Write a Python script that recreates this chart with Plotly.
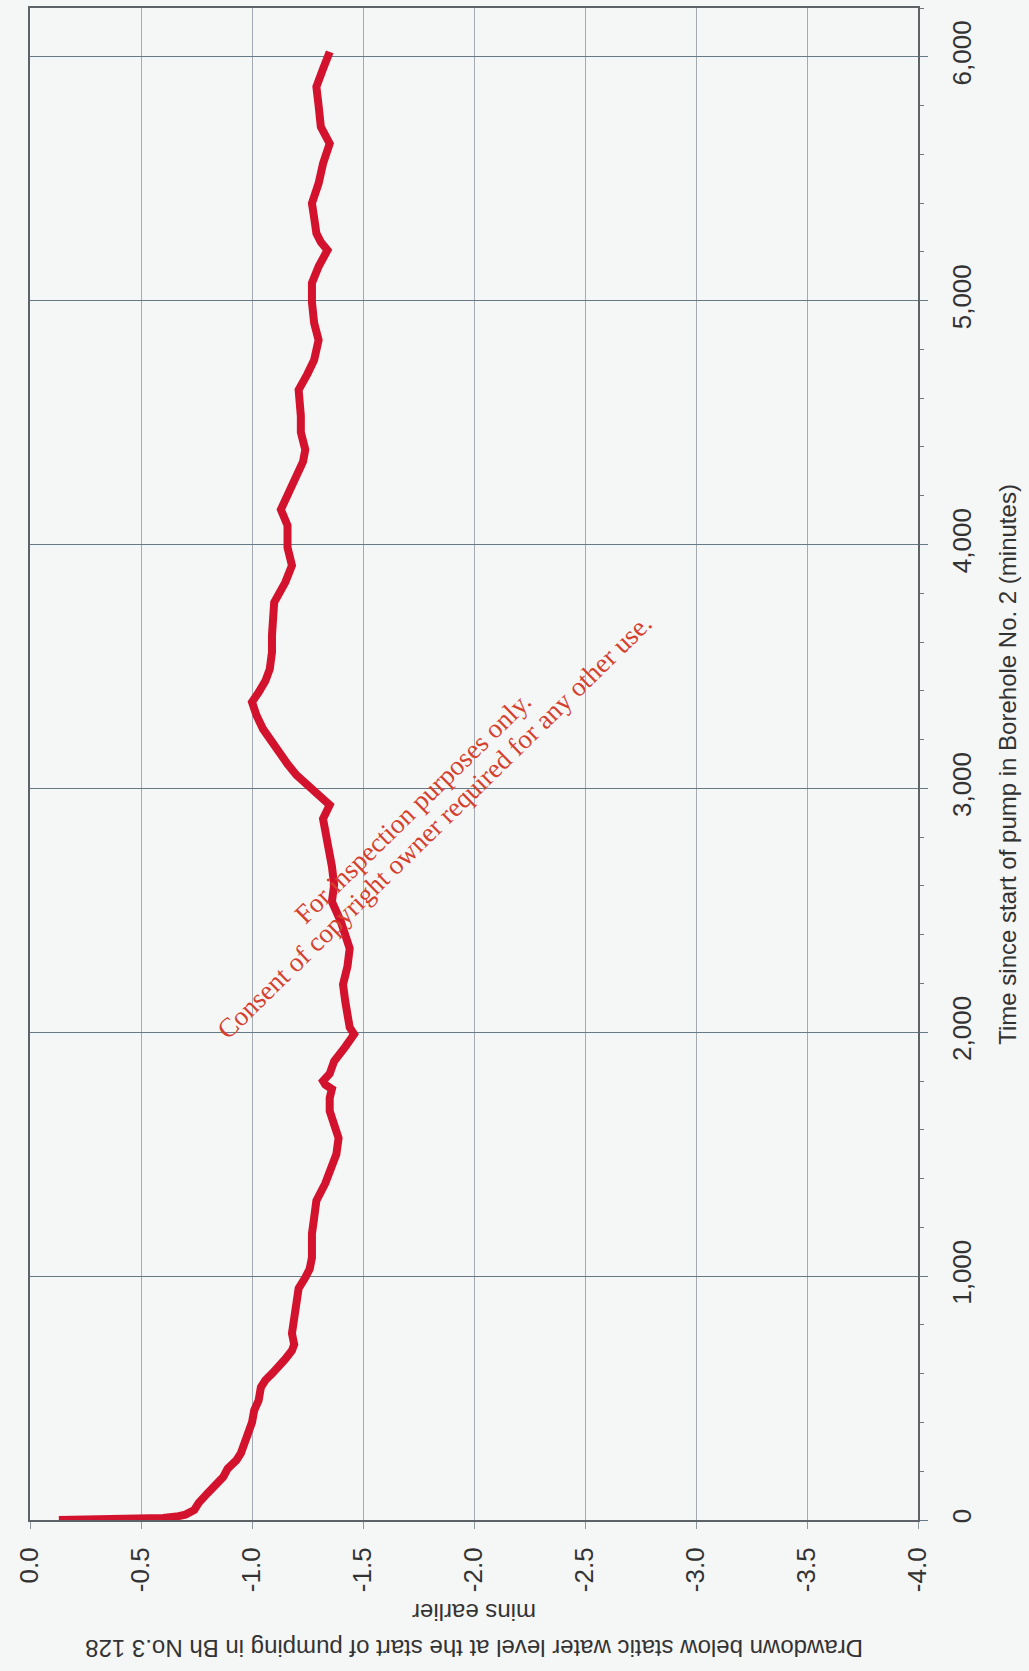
import plotly.graph_objects as go

# Drawdown record: time since pump start (minutes) and drawdown (m)
time_min = [0, 1, 2, 3, 5, 8, 14, 22, 41, 70, 110, 150, 176, 210, 245, 274, 320, 356,
            400, 450, 491, 544, 573, 600, 626, 660, 695, 720, 765, 820, 900, 950, 994,
            1030, 1076, 1130, 1174, 1240, 1309, 1380, 1444, 1500, 1566, 1620, 1677, 1730,
            1767, 1785, 1800, 1830, 1881, 1940, 1992, 2020, 2057, 2127, 2196, 2270, 2344,
            2400, 2454, 2536, 2605, 2680, 2740, 2800, 2875, 2932, 2957, 2998, 3055, 3100,
            3149, 3200, 3243, 3300, 3354, 3394, 3440, 3489, 3558, 3628, 3700, 3763, 3845,
            3914, 3988, 4078, 4143, 4200, 4282, 4340, 4389, 4460, 4527, 4634, 4700, 4757,
            4838, 4908, 4994, 5072, 5140, 5207, 5240, 5276, 5340, 5399, 5481, 5562, 5644,
            5680, 5713, 5800, 5877, 5950, 6000, 6020]
drawdown_m = [-0.13, -0.22, -0.33, -0.42, -0.52, -0.60, -0.66, -0.70, -0.74, -0.76, -0.80,
              -0.84, -0.87, -0.89, -0.93, -0.95, -0.97, -0.98, -1.00, -1.01, -1.03, -1.04,
              -1.06, -1.09, -1.12, -1.15, -1.18, -1.19, -1.18, -1.19, -1.20, -1.21, -1.24,
              -1.26, -1.27, -1.27, -1.27, -1.28, -1.29, -1.33, -1.36, -1.38, -1.39, -1.37,
              -1.35, -1.35, -1.36, -1.33, -1.32, -1.35, -1.37, -1.42, -1.46, -1.44, -1.43,
              -1.42, -1.41, -1.43, -1.44, -1.42, -1.40, -1.36, -1.37, -1.36, -1.35, -1.34,
              -1.32, -1.35, -1.32, -1.26, -1.20, -1.16, -1.12, -1.08, -1.05, -1.02, -1.00,
              -1.03, -1.06, -1.08, -1.09, -1.09, -1.10, -1.10, -1.15, -1.18, -1.16, -1.16,
              -1.13, -1.16, -1.20, -1.23, -1.24, -1.22, -1.22, -1.21, -1.25, -1.28, -1.30,
              -1.28, -1.27, -1.27, -1.30, -1.34, -1.31, -1.29, -1.28, -1.27, -1.30, -1.32,
              -1.35, -1.33, -1.31, -1.30, -1.29, -1.32, -1.34, -1.35]

# Axis ticks
drawdown_ticks = [0.0, -0.5, -1.0, -1.5, -2.0, -2.5, -3.0, -3.5, -4.0]
drawdown_labels = ["0.0", "-0.5", "-1.0", "-1.5", "-2.0", "-2.5", "-3.0", "-3.5", "-4.0"]
time_ticks = [0, 1000, 2000, 3000, 4000, 5000, 6000]
time_labels = ["0", "1,000", "2,000", "3,000", "4,000", "5,000", "6,000"]

BG = "#f5f6f6"
TXT = "#333333"

fig = go.Figure()
fig.add_trace(go.Scatter(
    x=drawdown_m, y=time_min, mode="lines",
    line=dict(color="#d3132d", width=8, shape="linear"),
    showlegend=False, hoverinfo="skip",
))

fig.update_layout(
    width=1029, height=1671,
    margin=dict(l=30, r=111, t=6, b=151),
    paper_bgcolor=BG, plot_bgcolor=BG,
    font=dict(family="Liberation Sans, Arial, sans-serif", color=TXT),
    xaxis=dict(
        range=[0, -4], tickvals=drawdown_ticks, ticktext=drawdown_labels,
        tickangle=-90, tickfont=dict(size=26, color=TXT),
        showgrid=True, gridcolor="#a3abb1", gridwidth=1.2,
        zeroline=False, showline=True, mirror=True,
        linecolor="#5d6367", linewidth=2,
        ticks="outside", ticklen=7, tickcolor="#8f989e", tickwidth=1.2,
        ticklabelstandoff=8,
    ),
    yaxis=dict(
        range=[0, 6200], side="right", tickvals=time_ticks, ticktext=time_labels,
        tickangle=-90, tickfont=dict(size=26, color=TXT),
        showgrid=True, gridcolor="#667986", gridwidth=1.4,
        zeroline=False, showline=True, mirror=True,
        linecolor="#5d6367", linewidth=2,
        ticks="outside", ticklen=8, tickcolor="#667986", tickwidth=1.4,
        ticklabelstandoff=12,
        minor=dict(dtick=200, ticks="outside", ticklen=4, tickcolor="#777777",
                   showgrid=False),
    ),
    annotations=[
        dict(text="Time since start of pump in Borehole No. 2 (minutes)",
             xref="paper", yref="paper", x=1.100, y=0.5, textangle=-90,
             showarrow=False, xanchor="center", yanchor="middle",
             font=dict(size=24, color=TXT)),
        dict(text="Drawdown below static water level at the start of pumping in Bh No.3 128",
             xref="paper", yref="paper", x=0.5, y=-0.0845, textangle=180,
             showarrow=False, xanchor="center", yanchor="middle",
             font=dict(size=24, color=TXT)),
        dict(text="mins earlier",
             xref="paper", yref="paper", x=0.5, y=-0.0608, textangle=180,
             showarrow=False, xanchor="center", yanchor="middle",
             font=dict(size=24, color=TXT)),
        dict(text="For inspection purposes only.",
             xref="paper", yref="paper", x=0.431, y=0.471, textangle=-44.3,
             showarrow=False, xanchor="center", yanchor="middle",
             font=dict(size=27, color="#d5412e",
                       family="Liberation Serif, Times New Roman, serif")),
        dict(text="Consent of copyright owner required for any other use.",
             xref="paper", yref="paper", x=0.456, y=0.459, textangle=-44.3,
             showarrow=False, xanchor="center", yanchor="middle",
             font=dict(size=27, color="#d5412e",
                       family="Liberation Serif, Times New Roman, serif")),
    ],
)

fig.write_html("out.html")
